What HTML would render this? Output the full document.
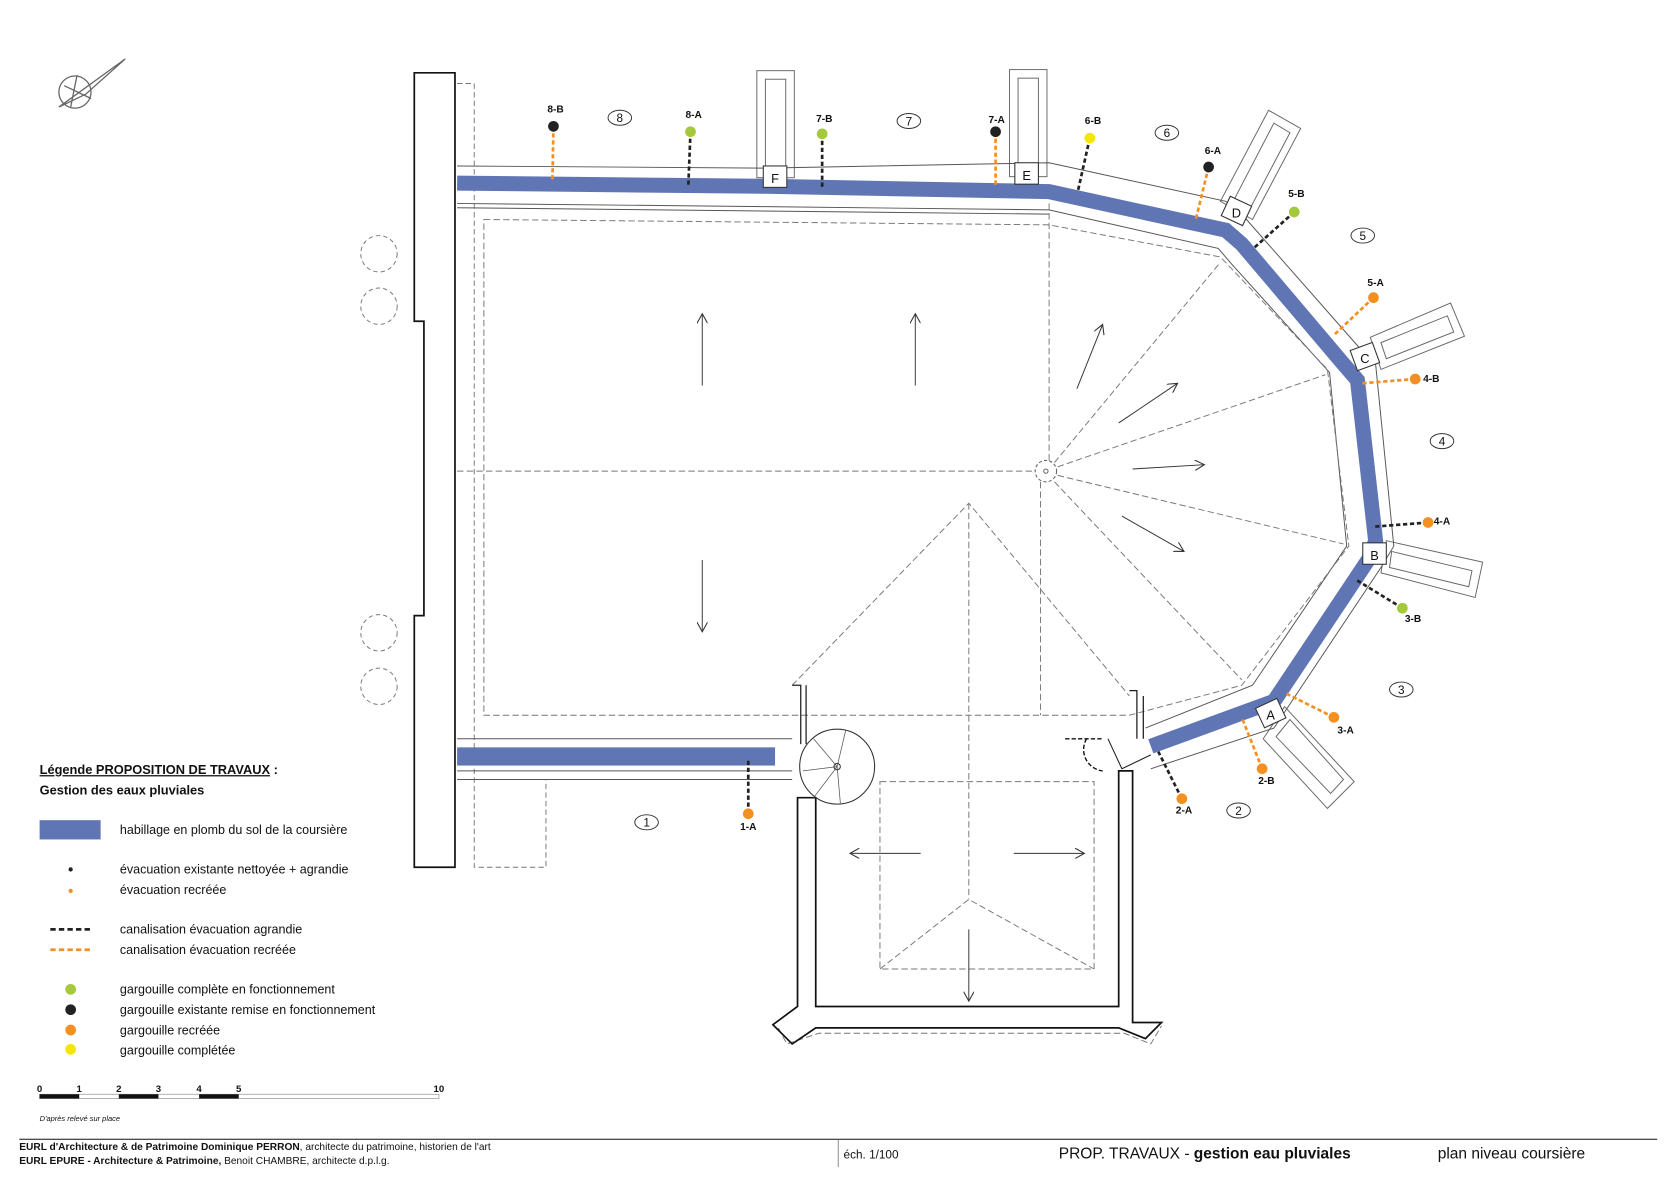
<!DOCTYPE html>
<html><head><meta charset="utf-8"><style>
html,body{margin:0;padding:0;background:#fff}
svg{display:block}
text{font-family:"Liberation Sans",Arial,sans-serif;fill:#111}
</style></head><body>
<svg width="1670" height="1181" viewBox="0 0 1560 1103" preserveAspectRatio="none" xmlns="http://www.w3.org/2000/svg">
<defs>
<marker id="ah" markerWidth="10" markerHeight="10" refX="9" refY="5" orient="auto" markerUnits="userSpaceOnUse"><path d="M0,0 L9,5 L0,10" fill="none" stroke="#333" stroke-width="1"/></marker>
</defs>
<g stroke="#666" fill="none" stroke-width="1.2">
<circle cx="70" cy="86" r="15"/>
<path d="M55,100 L117,55 L80,88 Z"/><path d="M60,80 L85,92"/><path d="M72,70 L66,100"/>
</g>
<path d="M387,68 L425,68 L425,810 L387,810 L387,575 L396,575 L396,300 L387,300 Z" fill="none" stroke="#111" stroke-width="1.6"/>
<path d="M427,78 L443,78 L443,810 L510,810 L510,728" fill="none" stroke="#777" stroke-dasharray="5,3" stroke-width="0.9"/>
<g fill="none" stroke="#777" stroke-dasharray="4,3" stroke-width="0.9">
<circle cx="354" cy="237" r="17"/><circle cx="354" cy="286" r="17"/><circle cx="354" cy="591" r="17"/><circle cx="354" cy="641" r="17"/>
</g>
<g fill="none" stroke="#666" stroke-width="0.9">
<rect x="707" y="66" width="35" height="100"/><rect x="715" y="74" width="19" height="86"/>
<rect x="943" y="65" width="35" height="100"/><rect x="951" y="73" width="19" height="86"/>
<path d="M1140,188 L1185,103 L1215,120 L1170,205 Z"/><path d="M1152,188 L1190,115 L1205,124 L1166,198 Z"/>
<path d="M1280,315 L1355,283 L1368,314 L1290,345 Z"/><path d="M1290,320 L1352,295 L1358,310 L1295,335 Z"/>
<path d="M1295,505 L1385,525 L1378,558 L1290,535 Z"/><path d="M1300,515 L1375,533 L1372,548 L1298,530 Z"/>
<path d="M1200,660 L1265,730 L1240,755 L1180,690 Z"/><path d="M1205,672 L1255,728 L1243,741 L1192,688 Z"/>
</g>
<g fill="none" stroke="#555" stroke-width="0.9">
<polyline points="427,155 715,157 980,152 1145,188 1160,200 1270,325 1285,340 1302,510 1290,530 1190,680 1075,718"/>
<polyline points="427,190 715,193 980,196 1138,232 1150,246 1242,348 1258,510 1170,640 1070,680"/>
<polyline points="427,194 980,200"/>
<line x1="427" y1="690" x2="740" y2="690"/><line x1="427" y1="720" x2="740" y2="720"/><line x1="427" y1="728" x2="740" y2="728"/>
</g>
<polyline points="427,171 715,174 980,179 1145,215 1160,228 1255,340 1268,355 1285,505 1280,520 1190,655 1075,697" fill="none" stroke="#6076b4" stroke-width="14" stroke-linejoin="miter"/>
<rect x="427" y="698" width="297" height="17" fill="#6076b4"/>
<g fill="none" stroke="#777" stroke-dasharray="6,3" stroke-width="0.9">
<path d="M452,205 L980,210 L1140,240 L1240,345 L1260,510 L1160,640 L1055,668 L750,668 L452,668 Z"/>
<line x1="427" y1="440" x2="967" y2="440"/>
<line x1="980" y1="190" x2="980" y2="430"/>
<line x1="985" y1="432" x2="1140" y2="245"/><line x1="988" y1="436" x2="1238" y2="350"/>
<line x1="988" y1="444" x2="1255" y2="508"/><line x1="985" y1="450" x2="1160" y2="635"/>
<line x1="972" y1="450" x2="972" y2="668"/>
<path d="M740,640 L905,470 L1055,650"/><line x1="905" y1="470" x2="905" y2="840"/>
<rect x="822" y="730" width="200" height="175"/>
<path d="M822,905 L905,840 L1022,905"/>
<path d="M727,960 L735,975 L765,965 L1050,965 L1075,975 L1085,958"/>
</g>
<circle cx="977" cy="440" r="10" fill="none" stroke="#666" stroke-dasharray="3,2"/>
<circle cx="977" cy="440" r="2" fill="none" stroke="#666"/>
<path d="M762,745 L762,940 L1045,940 L1045,720 L1058,720 L1058,955 L1085,955 L1070,970 L1045,960 L762,960 L740,975 L722,957 L745,940 L745,745 Z" fill="none" stroke="#111" stroke-width="1.6"/>
<path d="M740,640 L748,640 L748,695 M753,640 L753,695 M1055,645 L1062,645 L1062,690 M1068,650 L1068,690" fill="none" stroke="#222" stroke-width="1.2"/>
<circle cx="782" cy="716" r="35" fill="none" stroke="#333" stroke-width="1"/>
<circle cx="782" cy="716" r="3" fill="none" stroke="#333"/>
<g stroke="#555" stroke-width="0.7"><line x1="782" y1="716" x2="760" y2="690"/><line x1="782" y1="716" x2="750" y2="720"/><line x1="782" y1="716" x2="760" y2="745"/><line x1="782" y1="716" x2="785" y2="750"/><line x1="782" y1="716" x2="790" y2="682"/></g>
<path d="M995,690 L1030,690 M1015,690 A20,20 0 0 0 1030,720" fill="none" stroke="#111" stroke-dasharray="4,2" stroke-width="1.3"/>
<path d="M1035,690 L1048,718 L1075,705" fill="none" stroke="#222"/>
<g stroke="#333" stroke-width="0.9" marker-end="url(#ah)">
<line x1="656" y1="360" x2="656" y2="293"/><line x1="855" y1="360" x2="855" y2="293"/>
<line x1="656" y1="523" x2="656" y2="590"/>
<line x1="1006" y1="363" x2="1030" y2="303"/><line x1="1045" y1="395" x2="1100" y2="358"/>
<line x1="1058" y1="438" x2="1125" y2="434"/><line x1="1048" y1="482" x2="1106" y2="515"/>
<line x1="860" y1="797" x2="794" y2="797"/><line x1="947" y1="797" x2="1013" y2="797"/>
<line x1="905" y1="868" x2="905" y2="935"/>
</g>
<g font-size="12" text-anchor="middle">
<rect x="713" y="155" width="22" height="20" fill="#fff" stroke="#333"/><text x="724" y="171">F</text>
<rect x="948" y="152" width="22" height="20" fill="#fff" stroke="#333"/><text x="959" y="168">E</text>
<rect x="1144" y="187" width="22" height="20" fill="#fff" stroke="#333" transform="rotate(25 1155 197)"/><text x="1155" y="203">D</text>
<rect x="1264" y="323" width="22" height="20" fill="#fff" stroke="#333" transform="rotate(-20 1275 333)"/><text x="1275" y="339">C</text>
<rect x="1273" y="507" width="22" height="20" fill="#fff" stroke="#333"/><text x="1284" y="523">B</text>
<rect x="1176" y="656" width="22" height="20" fill="#fff" stroke="#333" transform="rotate(-25 1187 666)"/><text x="1187" y="672">A</text>
</g>
<g stroke-width="2.5" stroke-dasharray="4,2.5">
<line x1="517" y1="118" x2="516" y2="170" stroke="#f39020"/>
<line x1="645" y1="123" x2="643" y2="173" stroke="#222"/>
<line x1="768" y1="125" x2="768" y2="175" stroke="#222"/>
<line x1="930" y1="123" x2="930" y2="175" stroke="#f39020"/>
<line x1="1018" y1="129" x2="1007" y2="178" stroke="#222"/>
<line x1="1129" y1="156" x2="1117" y2="205" stroke="#f39020"/>
<line x1="1209" y1="198" x2="1172" y2="231" stroke="#222"/>
<line x1="1283" y1="278" x2="1246" y2="313" stroke="#f39020"/>
<line x1="1322" y1="354" x2="1272" y2="358" stroke="#f39020"/>
<line x1="1334" y1="488" x2="1282" y2="492" stroke="#222"/>
<line x1="1310" y1="568" x2="1266" y2="541" stroke="#222"/>
<line x1="1246" y1="670" x2="1200" y2="647" stroke="#f39020"/>
<line x1="1179" y1="718" x2="1160" y2="670" stroke="#f39020"/>
<line x1="1104" y1="746" x2="1082" y2="702" stroke="#222"/>
<line x1="699" y1="760" x2="699" y2="710" stroke="#222"/>
</g>
<g>
<circle cx="517" cy="118" r="5" fill="#222"/><circle cx="645" cy="123" r="5" fill="#a4c93a"/>
<circle cx="768" cy="125" r="5" fill="#a4c93a"/><circle cx="930" cy="123" r="5" fill="#222"/>
<circle cx="1018" cy="129" r="5" fill="#f5e600"/><circle cx="1129" cy="156" r="5" fill="#222"/>
<circle cx="1209" cy="198" r="5" fill="#a4c93a"/><circle cx="1283" cy="278" r="5" fill="#f39020"/>
<circle cx="1322" cy="354" r="5" fill="#f39020"/><circle cx="1334" cy="488" r="5" fill="#f39020"/>
<circle cx="1310" cy="568" r="5" fill="#a4c93a"/><circle cx="1246" cy="670" r="5" fill="#f39020"/>
<circle cx="1179" cy="718" r="5" fill="#f39020"/><circle cx="1104" cy="746" r="5" fill="#f39020"/>
<circle cx="699" cy="760" r="5" fill="#f39020"/>
</g>
<g font-size="9.5" font-weight="bold" text-anchor="middle">
<text x="519" y="105">8-B</text><text x="648" y="110">8-A</text><text x="770" y="114">7-B</text><text x="931" y="115">7-A</text>
<text x="1021" y="116">6-B</text><text x="1133" y="144">6-A</text><text x="1211" y="184">5-B</text><text x="1285" y="267">5-A</text>
<text x="1337" y="357">4-B</text><text x="1347" y="490">4-A</text><text x="1320" y="581">3-B</text><text x="1257" y="685">3-A</text>
<text x="1183" y="732">2-B</text><text x="1106" y="760">2-A</text><text x="699" y="775">1-A</text>
</g>
<g fill="none" stroke="#333" stroke-width="0.9">
<ellipse cx="579" cy="110" rx="11" ry="7"/><ellipse cx="849" cy="113" rx="11" ry="7"/><ellipse cx="1090" cy="124" rx="11" ry="7"/>
<ellipse cx="1273" cy="220" rx="11" ry="7"/><ellipse cx="1347" cy="412" rx="11" ry="7"/><ellipse cx="1309" cy="644" rx="11" ry="7"/>
<ellipse cx="1157" cy="757" rx="11" ry="7"/><ellipse cx="604" cy="768" rx="11" ry="7"/>
</g>
<g font-size="11" text-anchor="middle">
<text x="579" y="114">8</text><text x="849" y="117">7</text><text x="1090" y="128">6</text><text x="1273" y="224">5</text>
<text x="1347" y="416">4</text><text x="1309" y="648">3</text><text x="1157" y="761">2</text><text x="604" y="772">1</text>
</g>
<text x="37" y="723" font-size="12" font-weight="bold"><tspan text-decoration="underline">Légende PROPOSITION DE TRAVAUX</tspan> :</text>
<text x="37" y="742" font-size="12" font-weight="bold">Gestion des eaux pluviales</text>
<rect x="37" y="766" width="57" height="18" fill="#6076b4"/>
<g font-size="11.7">
<text x="112" y="779">habillage en plomb du sol de la coursière</text>
<text x="112" y="816">évacuation existante nettoyée + agrandie</text>
<text x="112" y="835">évacuation recréée</text>
<text x="112" y="872">canalisation évacuation agrandie</text>
<text x="112" y="891">canalisation évacuation recréée</text>
<text x="112" y="928">gargouille complète en fonctionnement</text>
<text x="112" y="947">gargouille existante remise en fonctionnement</text>
<text x="112" y="966">gargouille recréée</text>
<text x="112" y="985">gargouille complétée</text>
</g>
<circle cx="66" cy="812" r="2" fill="#222"/><circle cx="66" cy="832" r="2" fill="#f39020"/>
<line x1="47" y1="868" x2="87" y2="868" stroke="#222" stroke-width="2.5" stroke-dasharray="5,3"/>
<line x1="47" y1="887" x2="87" y2="887" stroke="#f39020" stroke-width="2.5" stroke-dasharray="5,3"/>
<circle cx="66" cy="924" r="5" fill="#a4c93a"/><circle cx="66" cy="943" r="5" fill="#222"/>
<circle cx="66" cy="962" r="5" fill="#f39020"/><circle cx="66" cy="980" r="5" fill="#f5e600"/>
<rect x="37" y="1022" width="373" height="4" fill="#fff" stroke="#999" stroke-width="0.7"/>
<rect x="37" y="1022" width="37" height="4" fill="#111"/><rect x="111" y="1022" width="37" height="4" fill="#111"/><rect x="186" y="1022" width="37" height="4" fill="#111"/>
<g font-size="9" font-weight="bold" text-anchor="middle">
<text x="37" y="1020">0</text><text x="74" y="1020">1</text><text x="111" y="1020">2</text><text x="148" y="1020">3</text><text x="186" y="1020">4</text><text x="223" y="1020">5</text><text x="410" y="1020">10</text>
</g>
<text x="37" y="1047" font-size="7" font-style="italic">D'après relevé sur place</text>
<line x1="18" y1="1064" x2="1548" y2="1064" stroke="#111" stroke-width="1"/>
<line x1="783" y1="1064" x2="783" y2="1090" stroke="#666" stroke-width="0.7"/>
<text x="18" y="1074" font-size="9.5"><tspan font-weight="bold">EURL d'Architecture &amp; de Patrimoine Dominique PERRON</tspan>, architecte du patrimoine, historien de l'art</text>
<text x="18" y="1087" font-size="9.5"><tspan font-weight="bold">EURL EPURE - Architecture &amp; Patrimoine,</tspan> Benoit CHAMBRE, architecte d.p.l.g.</text>
<text x="788" y="1082" font-size="11">éch. 1/100</text>
<text x="989" y="1082" font-size="14.5">PROP. TRAVAUX - <tspan font-weight="bold">gestion eau pluviales</tspan></text>
<text x="1343" y="1082" font-size="14.5">plan niveau coursière</text>
</svg>
</body></html>
